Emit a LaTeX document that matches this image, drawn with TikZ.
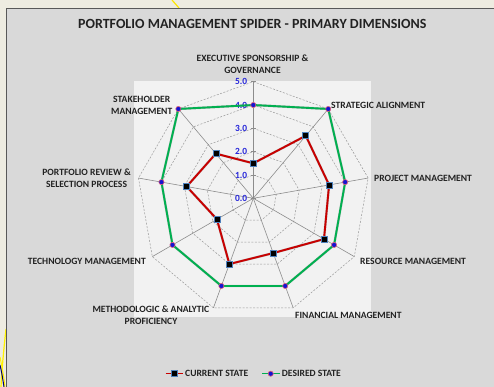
\documentclass[tikz,border=0pt]{standalone}
\usepackage{fontspec}
\setmainfont{Carlito}
\definecolor{cream}{HTML}{EEECE1}
\definecolor{panel}{HTML}{D9D9D9}
\definecolor{plotbg}{HTML}{F2F2F2}
\definecolor{framegray}{HTML}{595959}
\definecolor{gridgray}{HTML}{999999}
\definecolor{spokegray}{HTML}{8C8C8C}
\definecolor{tickblue}{HTML}{2626D9}
\definecolor{curred}{HTML}{C80000}
\definecolor{desgreen}{HTML}{00B050}
\definecolor{markblue}{HTML}{4F81BD}
\definecolor{pinkred}{HTML}{E0607A}
\definecolor{dotblue}{HTML}{1414D2}
\definecolor{txt}{HTML}{222222}
\begin{document}
\begin{tikzpicture}[x=1pt,y=1pt,
  lbl/.style={font=\fontsize{9.6}{12}\selectfont\bfseries, text=txt, inner sep=0pt, align=center},
  tick/.style={font=\fontsize{9.4}{10}\selectfont\bfseries, text=tickblue, inner sep=0pt, anchor=east},
  gridline/.style={draw=gridgray, dash pattern=on 2pt off 1.5pt, line width=0.5pt},
  spoke/.style={draw=spokegray, line width=0.6pt},
  cur/.style={draw=curred, line width=1.9pt, line join=round},
  des/.style={draw=desgreen, line width=1.9pt, line join=round},
  shad/.style={draw=black, opacity=0.22, line width=2.4pt, line join=round},
  cmark/.style={draw=markblue, fill=black, rectangle, minimum size=6pt, inner sep=0pt, line width=0.6pt},
  dmark/.style={draw=pinkred, fill=dotblue, circle, minimum size=5.2pt, inner sep=0pt, line width=0.6pt}]
\useasboundingbox (0,0) rectangle (494,387);
% background and frame
\fill[cream] (0,0) rectangle (494,387);
\draw[yellow!90!orange, line width=1.2pt] (172,387) -- (179,379);
\draw[yellow, line width=1.2pt] (1,0) .. controls (2,20) and (4,40) .. (6,58);
\draw[yellow, line width=1pt] (0,30) .. controls (2,20) and (4,10) .. (5,0);
\draw[blue!40!black, line width=1pt] (0,22) .. controls (2,14) and (3,6) .. (4,0);
\fill[panel] (6,0) rectangle (494,379);
\draw[framegray, line width=0.8pt] (6,0) -- (6,379) -- (494,379);
\fill[plotbg] (134,70) rectangle (371,306);
% title
\node[font=\fontsize{14}{16}\selectfont\bfseries, text=txt, inner sep=0pt] (title) at (252.3,363) {PORTFOLIO MANAGEMENT SPIDER - PRIMARY DIMENSIONS};
% radar
\begin{scope}[shift={(253.3,188.7)}]
  \coordinate (O) at (0,0);
  \foreach \k in {1,...,5} {
    \draw[gridline] (90:\k*23.32) \foreach \a in {50,10,-30,-70,-110,-150,170,130} { -- (\a:\k*23.32) } -- cycle;
  }
  \foreach \a/\n in {90/e1,50/e2,10/e3,-30/e4,-70/e5,-110/e6,-150/e7,170/e8,130/e9} {
    \coordinate (\n) at (\a:116.6);
    \draw[spoke] (O) -- (\n);
  }
  \foreach \k in {0,...,5} {
    \draw[spoke] (-2.5,\k*23.32) -- (2.5,\k*23.32);
    \node[tick] (t\k) at (-6,\k*23.32) {\k.0};
  }
  % data
  \foreach \a/\v/\n in {90/1.5/c1,50/3.5/c2,10/3.3/c3,-30/3.5/c4,-70/2.5/c5,-110/3.0/c6,-150/1.8/c7,170/2.9/c8,130/2.5/c9}
    \coordinate (\n) at (\a:\v*23.32);
  \foreach \a/\v/\n in {90/4/d1,50/5/d2,10/4/d3,-30/4/d4,-70/4/d5,-110/4/d6,-150/4/d7,170/4/d8,130/5/d9}
    \coordinate (\n) at (\a:\v*23.32);
  \begin{scope}[shift={(1.2,-1.4)}]
    \draw[shad] (c1) -- (c2) -- (c3) -- (c4) -- (c5) -- (c6) -- (c7) -- (c8) -- (c9) -- cycle;
    \draw[shad] (d1) -- (d2) -- (d3) -- (d4) -- (d5) -- (d6) -- (d7) -- (d8) -- (d9) -- cycle;
  \end{scope}
  \draw[des] (d1) -- (d2) -- (d3) -- (d4) -- (d5) -- (d6) -- (d7) -- (d8) -- (d9) -- cycle;
  \draw[cur] (c1) -- (c2) -- (c3) -- (c4) -- (c5) -- (c6) -- (c7) -- (c8) -- (c9) -- cycle;
  \foreach \n in {c1,c2,c3,c4,c5,c6,c7,c8,c9} \node[cmark] (m\n) at (\n) {};
  \foreach \n in {d1,d2,d3,d4,d5,d6,d7,d8,d9} \node[dmark] (m\n) at (\n) {};
\end{scope}
% category labels
\node[lbl] (l1) at (252.5,323) {EXECUTIVE SPONSORSHIP \&\\GOVERNANCE};
\node[lbl, anchor=west] (l2) at (331,282) {STRATEGIC ALIGNMENT};
\node[lbl, anchor=west] (l3) at (374,209) {PROJECT MANAGEMENT};
\node[lbl, anchor=west] (l4) at (360,126) {RESOURCE MANAGEMENT};
\node[lbl, anchor=west] (l5) at (295,72) {FINANCIAL MANAGEMENT};
\node[lbl, anchor=east] (l6) at (209.5,72) {METHODOLOGIC \& ANALYTIC\\PROFICIENCY};
\node[lbl, anchor=east] (l7) at (146,126) {TECHNOLOGY MANAGEMENT};
\node[lbl, anchor=east] (l8) at (131,209) {PORTFOLIO REVIEW \&\\SELECTION PROCESS};
\node[lbl, anchor=east] (l9) at (172.5,282) {STAKEHOLDER\\MANAGEMENT};
% legend
\coordinate (la) at (165.7,13.3);
\coordinate (lb) at (183.3,13.3);
\draw[cur, line width=1.6pt] (la) -- (lb);
\node[cmark] (lgc) at (174.5,13.3) {};
\node[lbl, anchor=west] (lgct) at (185,13.3) {CURRENT STATE};
\coordinate (lc) at (262.3,13.3);
\coordinate (ld) at (280,13.3);
\draw[des, line width=1.6pt] (lc) -- (ld);
\node[dmark] (lgd) at (270.7,13.3) {};
\node[lbl, anchor=west] (lgdt) at (281.7,13.3) {DESIRED STATE};
\end{tikzpicture}
\end{document}
